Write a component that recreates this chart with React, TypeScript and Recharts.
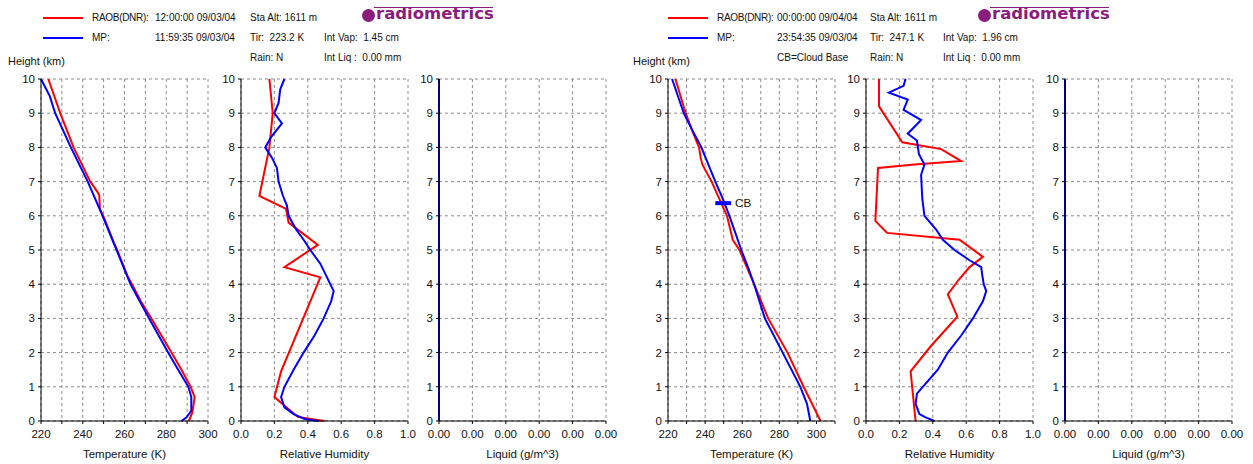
import React from "react"
import { LineChart, Line, XAxis, YAxis, CartesianGrid, ReferenceLine } from "recharts"

// heights in km
const tempRaobLeft = [
  { h: 0, v: 290.8 }, { h: 0.25, v: 292.5 }, { h: 0.7, v: 293.6 }, { h: 1, v: 291.7 },
  { h: 1.5, v: 287.3 }, { h: 2, v: 282.5 }, { h: 3, v: 272.9 }, { h: 3.5, v: 267.8 },
  { h: 4, v: 263.6 }, { h: 4.2, v: 261.7 }, { h: 4.5, v: 259.7 }, { h: 5, v: 256.5 },
  { h: 5.2, v: 255 }, { h: 6, v: 249.8 }, { h: 6.2, v: 248.2 }, { h: 6.6, v: 247.9 },
  { h: 6.7, v: 247 }, { h: 7, v: 243.6 }, { h: 8, v: 235.6 }, { h: 9, v: 229.2 }, { h: 10, v: 223.5 },
]
const tempMpLeft = [
  { h: 0, v: 287.3 }, { h: 0.1, v: 289.6 }, { h: 0.3, v: 292 }, { h: 0.7, v: 292 },
  { h: 1, v: 290.6 }, { h: 1.5, v: 285.7 }, { h: 2, v: 280.9 }, { h: 3, v: 271.8 },
  { h: 4, v: 262.9 }, { h: 5, v: 256.2 }, { h: 6, v: 249.5 }, { h: 7, v: 242.4 },
  { h: 8, v: 234.3 }, { h: 9, v: 226.8 }, { h: 9.5, v: 224.2 }, { h: 10, v: 220 },
]
const rhRaobLeft = [
  { h: 0, v: 0.5 }, { h: 0.12, v: 0.34 }, { h: 0.7, v: 0.2 }, { h: 1.45, v: 0.24 },
  { h: 4.2, v: 0.475 }, { h: 4.5, v: 0.26 }, { h: 5.15, v: 0.46 }, { h: 5.8, v: 0.285 },
  { h: 6.2, v: 0.27 }, { h: 6.58, v: 0.11 }, { h: 8, v: 0.17 }, { h: 9, v: 0.19 }, { h: 10, v: 0.17 },
]
const rhMpLeft = [
  { h: 0, v: 0.465 }, { h: 0.05, v: 0.385 }, { h: 0.2, v: 0.315 }, { h: 0.4, v: 0.26 },
  { h: 0.7, v: 0.24 }, { h: 1, v: 0.26 }, { h: 1.5, v: 0.315 }, { h: 2, v: 0.375 },
  { h: 2.5, v: 0.44 }, { h: 3, v: 0.495 }, { h: 3.5, v: 0.54 }, { h: 3.8, v: 0.555 },
  { h: 4.2, v: 0.515 }, { h: 4.6, v: 0.475 }, { h: 5, v: 0.415 }, { h: 5.3, v: 0.375 },
  { h: 5.6, v: 0.33 }, { h: 6, v: 0.285 }, { h: 6.3, v: 0.275 }, { h: 6.6, v: 0.25 },
  { h: 7, v: 0.225 }, { h: 7.4, v: 0.215 }, { h: 7.7, v: 0.185 }, { h: 8, v: 0.145 },
  { h: 8.3, v: 0.18 }, { h: 8.7, v: 0.245 }, { h: 9, v: 0.2 }, { h: 9.3, v: 0.225 },
  { h: 9.7, v: 0.235 }, { h: 10, v: 0.26 },
]
const tempRaobRight = [
  { h: 0, v: 302.2 }, { h: 1, v: 293.1 }, { h: 2, v: 284.4 }, { h: 3, v: 274 },
  { h: 4, v: 266.4 }, { h: 5, v: 258.5 }, { h: 5.3, v: 254.9 }, { h: 6, v: 251.8 },
  { h: 6.5, v: 247.6 }, { h: 7, v: 243.5 }, { h: 7.5, v: 238.5 }, { h: 7.7, v: 237.6 },
  { h: 8, v: 236.7 }, { h: 8.5, v: 233 }, { h: 9, v: 229.5 }, { h: 10, v: 224 },
]
const tempMpRight = [
  { h: 0, v: 296.7 }, { h: 0.5, v: 294.9 }, { h: 1, v: 291.3 }, { h: 2, v: 281.8 },
  { h: 3, v: 272.2 }, { h: 4, v: 266.4 }, { h: 4.5, v: 263.1 }, { h: 5, v: 259.5 },
  { h: 6, v: 253.1 }, { h: 6.5, v: 249.5 }, { h: 7, v: 245.5 }, { h: 8, v: 238 },
  { h: 8.5, v: 233.1 }, { h: 9, v: 228.5 }, { h: 10, v: 222.2 },
]
const rhRaobRight = [
  { h: 0, v: 0.297 }, { h: 1.45, v: 0.267 }, { h: 2.2, v: 0.39 }, { h: 3.05, v: 0.547 },
  { h: 3.7, v: 0.49 }, { h: 4.1, v: 0.55 }, { h: 4.5, v: 0.62 }, { h: 4.8, v: 0.7 },
  { h: 5.3, v: 0.56 }, { h: 5.5, v: 0.126 }, { h: 5.85, v: 0.056 }, { h: 7.4, v: 0.072 },
  { h: 7.5, v: 0.29 }, { h: 7.6, v: 0.57 }, { h: 7.95, v: 0.45 }, { h: 8.15, v: 0.217 },
  { h: 9.2, v: 0.078 }, { h: 10, v: 0.078 },
]
const rhMpRight = [
  { h: 0, v: 0.41 }, { h: 0.1, v: 0.36 }, { h: 0.2, v: 0.32 }, { h: 0.5, v: 0.297 },
  { h: 0.8, v: 0.305 }, { h: 1, v: 0.34 }, { h: 1.5, v: 0.43 }, { h: 2, v: 0.49 },
  { h: 2.5, v: 0.57 }, { h: 3, v: 0.64 }, { h: 3.5, v: 0.7 }, { h: 3.8, v: 0.72 },
  { h: 4, v: 0.705 }, { h: 4.3, v: 0.695 }, { h: 4.5, v: 0.69 }, { h: 4.7, v: 0.62 },
  { h: 5, v: 0.53 }, { h: 5.3, v: 0.46 }, { h: 5.6, v: 0.42 }, { h: 6, v: 0.35 },
  { h: 6.5, v: 0.337 }, { h: 7.2, v: 0.33 }, { h: 7.5, v: 0.35 }, { h: 7.8, v: 0.317 },
  { h: 8.2, v: 0.305 }, { h: 8.4, v: 0.25 }, { h: 8.8, v: 0.33 }, { h: 9.1, v: 0.225 },
  { h: 9.4, v: 0.25 }, { h: 9.6, v: 0.137 }, { h: 9.8, v: 0.225 }, { h: 10, v: 0.237 },
]
const liquidMp = [{ h: 0, v: 0 }, { h: 10, v: 0 }]

// cloud base marker (right panel)
const cloudBase = { h: 6.37, from: 245.5, to: 254 }

const heightTicks = [0, 1, 2, 3, 4, 5, 6, 7, 8, 9, 10]
const tempTicksLeft = [220, 230, 240, 250, 260, 270, 280, 290, 300]
const tempTicksRight = [220, 230, 240, 250, 260, 270, 280, 290, 300, 310]
const rhTicks = [0, 0.2, 0.4, 0.6, 0.8, 1.0]
const liquidTicks = [0, 0.0008, 0.0016, 0.0024, 0.0032, 0.004]

const headerLeft = {
  raob: "RAOB(DNR):", raobTime: "12:00:00 09/03/04", mp: "MP:", mpTime: "11:59:35 09/03/04",
  alt: "Sta Alt: 1611 m", tir: "Tir:  223.2 K", rain: "Rain: N",
  vap: "Int Vap:  1.45 cm", liq: "Int Liq :  0.00 mm", note: "",
}
const headerRight = {
  raob: "RAOB(DNR):", raobTime: "00:00:00 09/04/04", mp: "MP:", mpTime: "23:54:35 09/03/04",
  alt: "Sta Alt: 1611 m", tir: "Tir:  247.1 K", rain: "Rain: N",
  vap: "Int Vap:  1.96 cm", liq: "Int Liq :  0.00 mm", note: "CB=Cloud Base",
}

const RED = "#ff0000"
const BLUE = "#0000ff"
const PURPLE = "#8b1c7e"
const FONT = "'Liberation Sans', Arial, sans-serif"
const tickStyle = { fontSize: 11.5, fill: "#111", fontFamily: FONT }

const tempFmt = (v: number) => (v % 20 === 0 ? String(v) : "")

type Series = { h: number; v: number }[]

function Panel(props: {
  left: number
  domain: [number, number]
  ticks: number[]
  fmt: (v: number) => string
  label: string
  red?: Series
  blue: Series
  cb?: typeof cloudBase
}) {
  const { left, domain, ticks, fmt, label, red, blue, cb } = props
  return (
    <div style={{ position: "absolute", left: left - 40, top: 70 }}>
      <LineChart width={227} height={394} layout="vertical" margin={{ top: 9, right: 20, bottom: 0, left: 0 }}>
        <CartesianGrid stroke="#8a8a8a" strokeDasharray="3 3" />
        <XAxis
          type="number"
          dataKey="v"
          domain={domain}
          ticks={ticks}
          tickFormatter={fmt}
          interval={0}
          tick={tickStyle}
          tickSize={3}
          tickMargin={6}
          stroke="#000"
          height={43}
          label={{ value: label, position: "insideBottom", offset: 6, style: { fontSize: 11.5, fill: "#111", fontFamily: FONT } }}
        />
        <XAxis xAxisId="top" orientation="top" type="number" domain={domain} height={0} tick={false} tickLine={false} stroke="#000" />
        <YAxis
          type="number"
          dataKey="h"
          domain={[0, 10]}
          reversed
          ticks={heightTicks}
          interval={0}
          tick={tickStyle}
          tickSize={3}
          tickMargin={3}
          width={40}
          stroke="#000"
        />
        <YAxis yAxisId="right" orientation="right" type="number" dataKey="h" domain={[0, 10]} reversed width={0} tick={false} tickLine={false} stroke="#000" />
        {red && <Line data={red} dataKey="v" type="linear" stroke={RED} strokeWidth={2} dot={false} isAnimationActive={false} />}
        <Line data={blue} dataKey="v" type="linear" stroke={BLUE} strokeWidth={2} dot={false} isAnimationActive={false} />
        {cb && (
          <ReferenceLine
            segment={[{ x: cb.from, y: cb.h }, { x: cb.to, y: cb.h }]}
            stroke={BLUE}
            strokeWidth={4}
            label={{ value: "CB", position: "right", offset: 4, style: { fontSize: 11.5, fill: "#111", fontFamily: FONT } }}
          />
        )}
      </LineChart>
    </div>
  )
}

function Header({ x, info, off }: { x: number; info: typeof headerLeft; off: number[] }) {
  const [timeX, altX, vapX, logoX] = off
  const t = (left: number, top: number, text: string, ls = 0) => (
    <div style={{ position: "absolute", left: x + left, top, whiteSpace: "pre", lineHeight: "14px", letterSpacing: ls }}>{text}</div>
  )
  return (
    <>
      <div style={{ position: "absolute", left: x + 2, top: 17, width: 40, height: 2, background: RED }} />
      <div style={{ position: "absolute", left: x + 2, top: 37, width: 40, height: 2, background: BLUE }} />
      {t(51, 11, info.raob, -0.3)}
      {t(51, 31, info.mp)}
      {t(timeX, 11, info.raobTime)}
      {t(timeX, 31, info.mpTime)}
      {info.note && t(timeX, 51, info.note)}
      {t(altX, 11, info.alt)}
      {t(altX, 31, info.tir)}
      {t(altX, 51, info.rain)}
      {t(vapX, 31, info.vap)}
      {t(vapX, 51, info.liq)}
      <div style={{ position: "absolute", left: x - 33, top: 55, fontSize: 11, whiteSpace: "pre" }}>Height (km)</div>
      <div style={{ position: "absolute", left: x + logoX + 12, top: 7, width: 119, height: 1, background: PURPLE }} />
      <div style={{ position: "absolute", left: x + logoX, top: 9, width: 13, height: 13, borderRadius: 7, background: PURPLE }} />
      <div
        style={{
          position: "absolute",
          left: x + logoX + 14,
          top: 4,
          fontFamily: "'DejaVu Sans', sans-serif",
          fontWeight: "bold",
          fontSize: 16.5,
          color: PURPLE,
          whiteSpace: "pre",
        }}
      >
        radiometrics
      </div>
    </>
  )
}

export default function App() {
  return (
    <div style={{ position: "absolute", left: 0, top: 0, width: 1253, height: 464, background: "#fff", fontFamily: FONT, fontSize: 10, color: "#111" }}>
      <Header x={41} info={headerLeft} off={[114, 209, 283, 321]} />
      <Header x={666} info={headerRight} off={[111, 204, 277, 312]} />
      <Panel left={41} domain={[220, 300]} ticks={tempTicksLeft} fmt={tempFmt} label="Temperature (K)" red={tempRaobLeft} blue={tempMpLeft} />
      <Panel left={241} domain={[0, 1]} ticks={rhTicks} fmt={(v) => v.toFixed(1)} label="Relative Humidity" red={rhRaobLeft} blue={rhMpLeft} />
      <Panel left={439} domain={[0, 0.004]} ticks={liquidTicks} fmt={(v) => v.toFixed(2)} label="Liquid (g/m^3)" blue={liquidMp} />
      <Panel left={668} domain={[220, 310]} ticks={tempTicksRight} fmt={tempFmt} label="Temperature (K)" red={tempRaobRight} blue={tempMpRight} cb={cloudBase} />
      <Panel left={866} domain={[0, 1]} ticks={rhTicks} fmt={(v) => v.toFixed(1)} label="Relative Humidity" red={rhRaobRight} blue={rhMpRight} />
      <Panel left={1065} domain={[0, 0.004]} ticks={liquidTicks} fmt={(v) => v.toFixed(2)} label="Liquid (g/m^3)" blue={liquidMp} />
    </div>
  )
}
